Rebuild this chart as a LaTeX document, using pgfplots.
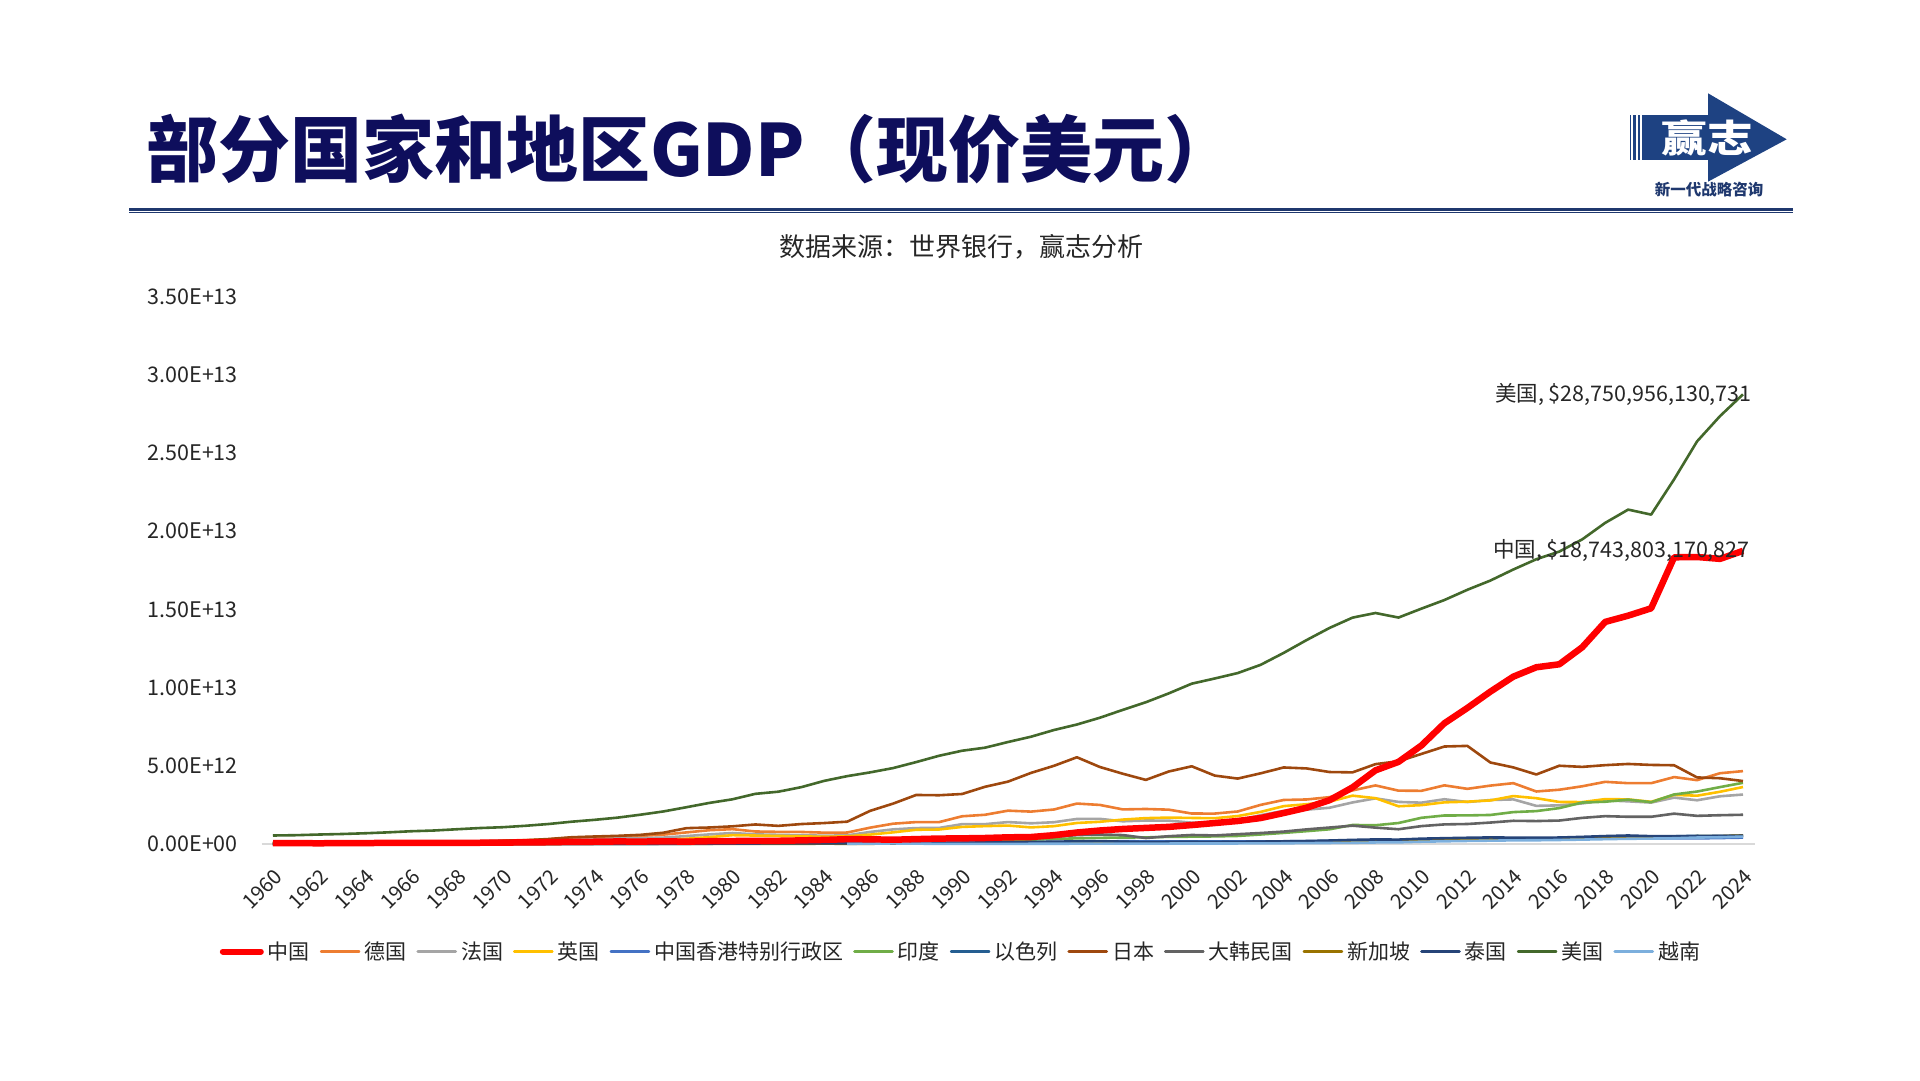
\documentclass[border=0pt]{standalone}
\usepackage{fontspec}
\setmainfont{Noto Sans CJK SC}
\usepackage{pgfplots}
\pgfplotsset{compat=1.18}
\usepackage{pgfplotstable}

\definecolor{cCN}{HTML}{FF0000}
\definecolor{cDE}{HTML}{ED7D31}
\definecolor{cFR}{HTML}{A5A5A5}
\definecolor{cGB}{HTML}{FFC000}
\definecolor{cHK}{HTML}{4472C4}
\definecolor{cIN}{HTML}{70AD47}
\definecolor{cIL}{HTML}{255E91}
\definecolor{cJP}{HTML}{9E480E}
\definecolor{cKR}{HTML}{636363}
\definecolor{cSG}{HTML}{997300}
\definecolor{cTH}{HTML}{264478}
\definecolor{cUS}{HTML}{43682B}
\definecolor{cVN}{HTML}{7CAFDD}
\definecolor{titlec}{RGB}{14,14,92}
\definecolor{linec}{RGB}{31,56,110}
\definecolor{logoc}{RGB}{30,66,130}
\definecolor{tickc}{HTML}{262626}
\definecolor{axisc}{HTML}{D9D9D9}

% GDP, current US$, billions
\pgfplotstableread{
year CN DE FR GB HK IN IL JP KR SG TH US VN
1960 59.7 nan 62.7 73.2 1.32 37.0 2.6 44.3 4.0 0.70 2.76 543.3 nan
1961 50.1 nan 68.0 77.7 1.41 39.2 3.1 53.5 2.4 0.76 3.03 563.3 nan
1962 47.2 nan 76.3 81.2 1.65 42.2 2.5 60.7 2.8 0.82 3.31 605.1 nan
1963 50.7 nan 85.2 86.6 1.89 48.4 2.9 69.5 3.9 0.92 3.54 638.6 nan
1964 59.7 nan 94.0 94.4 2.11 56.5 3.3 81.7 3.5 0.89 3.89 685.8 nan
1965 70.4 nan 101.5 101.8 2.44 59.6 3.8 90.9 3.1 0.97 4.39 743.7 nan
1966 76.7 nan 110.0 108.6 2.55 45.9 4.0 105.6 3.8 1.08 5.28 815.0 nan
1967 72.9 nan 118.8 113.0 2.69 50.1 4.0 123.8 4.6 1.24 5.64 861.7 nan
1968 70.8 nan 129.7 107.6 2.71 53.1 4.6 146.6 5.6 1.43 6.08 942.5 nan
1969 79.7 nan 140.9 116.5 3.19 58.4 5.3 172.2 7.1 1.69 6.69 1019.9 nan
1970 92.6 215.8 148.5 130.7 3.80 62.4 5.6 212.6 9.0 1.92 7.09 1073.3 nan
1971 99.8 249.9 165.9 148.1 4.46 67.4 6.4 240.2 9.9 2.26 7.36 1164.9 nan
1972 113.7 299.8 203.5 170.0 5.60 71.5 7.6 318.0 10.9 2.72 8.12 1279.1 nan
1973 138.5 398.4 264.4 192.5 7.90 85.5 9.4 432.1 13.9 3.69 10.8 1425.4 nan
1974 144.2 445.3 285.6 206.1 9.20 99.5 11.3 479.6 19.4 4.85 13.6 1545.2 nan
1975 163.4 490.6 360.8 241.8 10.0 98.5 12.2 521.5 22.1 5.60 14.9 1684.9 nan
1976 153.9 519.8 372.4 232.6 12.9 102.7 12.0 586.2 29.8 6.00 17.0 1873.4 nan
1977 174.9 600.6 410.7 263.1 15.7 121.5 12.8 721.4 38.4 6.66 19.8 2081.8 nan
1978 149.5 740.5 506.7 335.9 18.3 137.3 14.6 1013.6 52.0 7.84 24.5 2351.6 nan
1979 178.3 881.3 613.5 439.0 22.5 153.0 18.7 1055.0 66.7 9.64 27.7 2627.3 nan
1980 191.1 950.3 701.3 564.9 28.9 186.3 21.9 1129.4 65.4 11.9 32.4 2857.3 nan
1981 195.9 800.5 615.6 540.8 31.1 193.5 24.2 1249.0 72.9 14.2 34.8 3207.0 nan
1982 205.1 776.6 584.9 515.0 32.3 200.7 25.9 1159.8 78.4 16.1 36.6 3343.8 nan
1983 230.7 770.7 559.9 489.6 29.6 218.3 30.2 1275.4 87.8 18.4 40.0 3634.0 nan
1984 259.9 725.1 530.7 461.5 33.5 212.2 29.1 1339.6 97.5 19.7 41.8 4037.6 nan
1985 309.5 732.5 553.1 489.3 35.7 232.5 25.2 1427.4 101.3 18.6 38.9 4339.0 14.1
1986 300.8 1046.2 771.5 601.5 41.1 249.0 30.0 2120.9 115.5 18.7 43.1 4579.6 26.3
1987 272.9 1298.2 934.2 745.2 50.6 279.0 35.4 2584.2 147.9 21.3 50.5 4855.2 36.7
1988 312.4 1401.2 1018.8 910.1 59.7 296.6 44.2 3134.2 199.6 25.8 61.7 5236.4 25.4
1989 347.8 1398.9 1025.5 926.9 68.8 296.0 46.7 3117.6 246.9 30.6 72.3 5641.6 6.3
1990 360.9 1771.7 1269.2 1093.2 76.9 321.0 58.9 3196.6 283.4 38.9 85.6 5963.1 6.5
1991 383.4 1868.9 1269.3 1142.8 89.0 270.1 65.0 3657.3 330.6 45.5 98.2 6158.1 9.6
1992 426.9 2131.6 1401.5 1179.7 104.3 288.2 74.9 3988.3 355.5 52.1 111.5 6520.3 9.9
1993 444.7 2071.3 1322.8 1061.4 120.4 279.3 76.1 4544.8 392.7 60.6 128.9 6858.6 13.2
1994 564.3 2205.1 1393.0 1140.5 135.8 327.3 85.6 4998.8 463.6 73.7 146.7 7287.2 16.3
1995 734.5 2585.8 1601.1 1344.2 144.2 360.3 100.1 5545.6 566.6 87.9 169.3 7639.7 20.7
1996 863.7 2497.2 1605.7 1419.6 159.7 392.9 109.9 4923.4 610.2 96.3 183.0 8073.1 24.7
1997 961.6 2211.7 1452.1 1560.9 177.4 415.9 114.4 4492.4 569.8 100.1 150.2 8577.6 26.8
1998 1029.0 2238.9 1503.1 1653.7 168.9 421.4 116.8 4098.4 383.3 85.7 113.7 9062.8 27.2
1999 1094.0 2194.9 1493.0 1687.8 165.8 458.8 117.9 4635.9 497.5 86.3 126.7 9631.2 28.7
2000 1211.3 1948.0 1365.6 1665.5 171.7 468.4 132.5 4968.4 576.2 96.1 126.4 10251.0 31.2
2001 1339.4 1945.8 1377.5 1649.8 169.4 485.4 130.9 4374.7 547.7 89.8 120.3 10581.9 32.7
2002 1470.6 2078.5 1501.4 1785.7 166.3 514.9 120.9 4182.8 627.2 92.5 134.3 10929.1 35.1
2003 1660.3 2501.6 1844.5 2054.4 161.4 607.7 126.8 4519.6 702.7 97.6 152.3 11456.5 39.6
2004 1980.0 2814.4 2119.6 2421.5 169.1 709.1 134.3 4893.1 793.2 115.0 172.9 12217.2 45.4
2005 2320.0 2846.9 2196.1 2543.2 181.6 820.4 142.8 4831.5 934.9 127.8 189.3 13039.2 57.6
2006 2800.0 2994.7 2318.6 2708.4 193.5 940.3 154.5 4601.7 1053.2 148.6 221.8 13815.6 66.4
2007 3620.0 3425.6 2657.2 3090.5 211.6 1216.7 180.0 4579.8 1172.6 180.9 262.9 14474.2 77.4
2008 4710.0 3745.3 2918.4 2929.4 219.3 1198.9 216.8 5106.7 1047.3 193.6 291.4 14769.9 99.1
2009 5250.0 3411.3 2690.2 2412.8 214.0 1341.9 208.0 5289.5 943.7 194.2 281.7 14478.1 106.0
2010 6300.0 3399.7 2642.6 2485.5 228.6 1675.6 233.6 5759.1 1144.1 239.8 341.1 15049.0 147.2
2011 7720.0 3749.3 2861.4 2663.8 248.5 1823.1 261.4 6233.1 1253.2 279.4 370.8 15599.7 172.6
2012 8700.0 3527.1 2683.8 2707.1 262.6 1827.6 257.3 6272.4 1278.4 295.1 397.6 16254.0 195.6
2013 9740.0 3733.8 2811.1 2784.9 275.7 1856.7 292.5 5212.3 1370.8 307.6 420.3 16843.2 213.7
2014 10700.0 3889.1 2852.2 3064.7 291.5 2039.1 308.4 4896.9 1484.3 314.9 407.3 17550.7 233.5
2015 11300.0 3357.6 2438.2 2927.9 309.4 2103.6 299.4 4444.9 1466.0 308.0 401.3 18206.0 239.3
2016 11490.0 3469.9 2471.3 2689.1 320.9 2294.8 318.7 5003.7 1499.7 319.0 413.4 18695.1 257.1
2017 12580.0 3690.8 2595.2 2680.1 341.3 2651.5 355.3 4930.8 1670.0 343.3 456.4 19477.3 281.4
2018 14200.0 3974.4 2790.9 2871.3 361.7 2702.9 373.6 5040.9 1780.0 376.9 506.8 20533.1 310.1
2019 14600.0 3889.2 2728.9 2851.4 363.1 2835.6 402.5 5117.9 1740.0 376.8 544.0 21381.0 334.4
2020 15070.0 3887.7 2647.9 2697.8 344.9 2674.9 413.3 5055.6 1740.0 349.5 500.5 21060.5 346.6
2021 18330.0 4278.5 2966.4 3141.5 368.9 3167.3 489.0 5034.6 1940.0 434.1 505.9 23315.1 366.5
2022 18350.0 4082.5 2796.3 3088.8 358.7 3353.5 525.0 4256.4 1800.0 498.5 495.6 25744.1 413.4
2023 18230.0 4525.7 3051.8 3340.0 380.8 3638.5 513.6 4204.5 1840.0 501.4 514.9 27360.9 429.7
2024 18743.8 4659.9 3162.1 3643.8 407.1 3912.7 540.4 4026.2 1870.0 547.4 526.4 28750.956 476.4
}\gdp

\begin{document}
\begin{tikzpicture}
\path (0pt,0pt) rectangle (1920pt,1080pt);
% title
\node[anchor=base west, inner sep=0pt, text=titlec, font=\bfseries\fontsize{72}{80}\selectfont] at (146pt,903pt) {部分国家和地区GDP（现价美元）};
% double rule
\draw[linec, line width=3pt] (129pt,870.8pt) -- (1793pt,870.8pt);
\draw[linec, line width=1.5pt] (129pt,867.4pt) -- (1793pt,867.4pt);
% logo
\fill[logoc] (1629.5pt,920pt) rectangle (1631.2pt,965pt);
\fill[logoc] (1633.4pt,920pt) rectangle (1635.8pt,965pt);
\fill[logoc] (1637.6pt,920pt) rectangle (1640.2pt,965pt);
\fill[logoc] (1642pt,920pt) rectangle (1709pt,965pt);
\fill[logoc] (1708pt,986.7pt) -- (1786.7pt,940.7pt) -- (1708pt,898.3pt) -- cycle;
\node[text=white, font=\bfseries\fontsize{38}{40}\selectfont, xscale=1.2, inner sep=0pt] at (1707.5pt,941.7pt) {赢志};
\node[text=linec, font=\bfseries\fontsize{15.5}{17}\selectfont, inner sep=0pt] at (1709pt,890.5pt) {新一代战略咨询};
% subtitle
\node[font=\fontsize{26}{30}\selectfont, text=tickc, inner sep=0pt] at (961pt,833pt) {数据来源：世界银行，赢志分析};

\begin{axis}[
  at={(261.5pt,236pt)}, anchor=south west,
  scale only axis, width=1493pt, height=547.4pt,
  xmin=1959.5, xmax=2024.5, ymin=0, ymax=35000,
  clip=false, set layers,
  axis x line=bottom, axis y line=left,
  x axis line style={draw=axisc, line width=2pt, -},
  y axis line style={draw=none},
  major tick length=0pt,
  scaled x ticks=false, scaled y ticks=false,
  xtick={1960,1962,...,2024},
  ytick={0,5000,...,35000},
  yticklabels={0.00E+00,5.00E+12,1.00E+13,1.50E+13,2.00E+13,2.50E+13,3.00E+13,3.50E+13},
  /pgf/number format/assume math mode=true,
  /pgf/number format/1000 sep={},
  xticklabel style={rotate=45, anchor=north east, inner sep=0pt, text=tickc, font=\fontsize{20.5}{24}\selectfont},
  xticklabel shift=24pt,
  yticklabel style={anchor=east, inner sep=0pt, text=tickc, font=\fontsize{21.5}{26}\selectfont},
  yticklabel shift=23.5pt,
  legend columns=-1,
  legend style={at={(axis description cs:0.4678,-0.1964)}, anchor=center, draw=none, fill=none,
    inner sep=0pt, font=\fontsize{21}{25}\selectfont, text=tickc,
    nodes={inner sep=0pt},
    /tikz/every odd column/.append style={column sep=4pt},
    /tikz/every even column/.append style={column sep=10pt}},
  legend image code/.code={\draw[#1, line cap=round] (1.5pt,0pt) -- (39.5pt,0pt);},
  every axis plot/.append style={line join=round},
]
\addlegendimage{cCN, line width=6pt}\addlegendentry{中国}
\addlegendimage{cDE, line width=2.6pt}\addlegendentry{德国}
\addlegendimage{cFR, line width=2.6pt}\addlegendentry{法国}
\addlegendimage{cGB, line width=2.6pt}\addlegendentry{英国}
\addlegendimage{cHK, line width=2.6pt}\addlegendentry{中国香港特别行政区}
\addlegendimage{cIN, line width=2.6pt}\addlegendentry{印度}
\addlegendimage{cIL, line width=2.6pt}\addlegendentry{以色列}
\addlegendimage{cJP, line width=2.6pt}\addlegendentry{日本}
\addlegendimage{cKR, line width=2.6pt}\addlegendentry{大韩民国}
\addlegendimage{cSG, line width=2.6pt}\addlegendentry{新加坡}
\addlegendimage{cTH, line width=2.6pt}\addlegendentry{泰国}
\addlegendimage{cUS, line width=2.6pt}\addlegendentry{美国}
\addlegendimage{cVN, line width=2.6pt}\addlegendentry{越南}

\addplot[cDE, line width=2.6pt, forget plot] table[x=year, y=DE] {\gdp};
\addplot[cFR, line width=2.6pt, forget plot] table[x=year, y=FR] {\gdp};
\addplot[cGB, line width=2.6pt, forget plot] table[x=year, y=GB] {\gdp};
\addplot[cHK, line width=2.6pt, forget plot] table[x=year, y=HK] {\gdp};
\addplot[cIN, line width=2.6pt, forget plot] table[x=year, y=IN] {\gdp};
\addplot[cIL, line width=2.6pt, forget plot] table[x=year, y=IL] {\gdp};
\addplot[cJP, line width=2.6pt, forget plot] table[x=year, y=JP] {\gdp};
\addplot[cKR, line width=2.6pt, forget plot] table[x=year, y=KR] {\gdp};
\addplot[cSG, line width=2.6pt, forget plot] table[x=year, y=SG] {\gdp};
\addplot[cTH, line width=2.6pt, forget plot] table[x=year, y=TH] {\gdp};
\addplot[cUS, line width=2.6pt, forget plot] table[x=year, y=US] {\gdp}
  node[pos=1, anchor=east, inner sep=0pt, xshift=10pt, text=tickc, font=\fontsize{21.5}{26}\selectfont] {美国, \$28,750,956,130,731};
\addplot[cVN, line width=2.6pt, forget plot] table[x=year, y=VN] {\gdp};
\addplot[cCN, line width=6.5pt, forget plot] table[x=year, y=CN] {\gdp}
  node[pos=1, anchor=east, inner sep=0pt, xshift=10pt, text=tickc, font=\fontsize{21.5}{26}\selectfont] {中国, \$18,743,803,170,827};
\end{axis}
\end{tikzpicture}
\end{document}
